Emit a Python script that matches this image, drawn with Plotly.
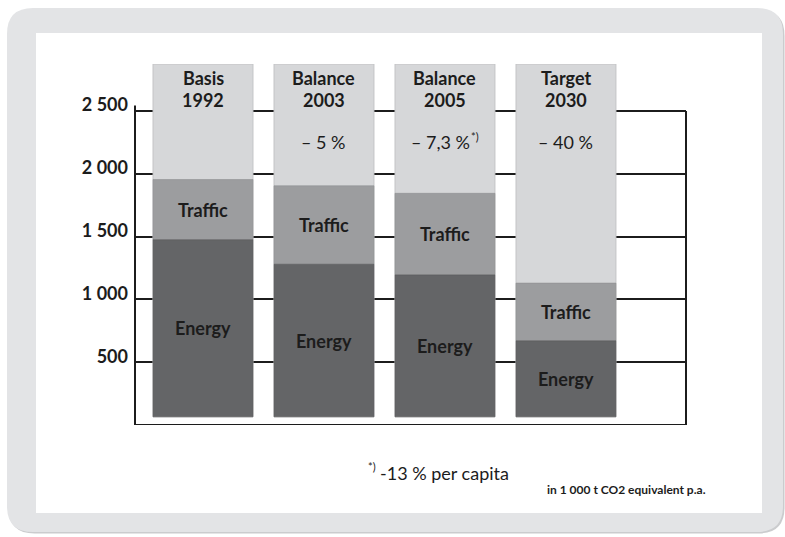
import plotly.graph_objects as go

# ---- data ----
columns = ["Basis 1992", "Balance 2003", "Balance 2005", "Target 2030"]
header_names = ["Basis", "Balance", "Balance", "Target"]
header_years = ["1992", "2003", "2005", "2030"]
header_changes = ["", "– 5 %", "– 7,3 %", "– 40 %"]
header_marks = ["", "", "*)", ""]
energy = [1475, 1280, 1195, 670]
traffic = [480, 625, 650, 460]
tick_values = [500, 1000, 1500, 2000, 2500]
tick_labels = ["500", "1 000", "1 500", "2 000", "2 500"]
footnote_mark = "*)"
footnote = "-13 % per capita"
unit_note = "in 1 000 t CO2 equivalent p.a."

# ---- style constants ----
BAR_BASE = 65
COLUMN_TOP = 2875
FONT = "Lato"
TXT = "#1c1c1c"
C_LIGHT = "#d6d7d9"
C_TRAFFIC = "#9c9d9f"
C_ENERGY = "#646567"
C_FRAME = "#e3e4e6"

W, H = 785, 537
L, R, T, B = 135, 99, 64, 112
PW, PH = W - L - R, H - T - B


def pp(px, py):
    return (px - L) / PW, (H - B - py) / PH


def rounded_path(x0, y0, x1, y1, r):
    pts = [
        ("M", [(x0 + r, y0)]),
        ("L", [(x1 - r, y0)]),
        ("Q", [(x1, y0), (x1, y0 + r)]),
        ("L", [(x1, y1 - r)]),
        ("Q", [(x1, y1), (x1 - r, y1)]),
        ("L", [(x0 + r, y1)]),
        ("Q", [(x0, y1), (x0, y1 - r)]),
        ("L", [(x0, y0 + r)]),
        ("Q", [(x0, y0), (x0 + r, y0)]),
    ]
    s = ""
    for cmd, ps in pts:
        s += cmd + " " + " ".join("%.5f,%.5f" % pp(a, b) for a, b in ps) + " "
    return s + "Z"


fig = go.Figure()

fig.add_trace(go.Bar(
    x=columns, y=[COLUMN_TOP - BAR_BASE] * len(columns), base=BAR_BASE,
    marker=dict(color=C_LIGHT, line=dict(color="#c3c4c6", width=1)),
    width=0.826, hoverinfo="skip", showlegend=False,
))
fig.add_trace(go.Bar(
    x=columns, y=traffic, base=energy,
    marker=dict(color=C_TRAFFIC, line=dict(color="#8f9092", width=0.6)),
    width=0.826, text=["Traffic"] * len(columns), textposition="inside",
    insidetextanchor="middle", textangle=0,
    textfont=dict(family=FONT, size=18, color=TXT, weight="bold"),
    showlegend=False,
))
fig.add_trace(go.Bar(
    x=columns, y=[e - BAR_BASE for e in energy], base=BAR_BASE,
    marker=dict(color=C_ENERGY, line=dict(color="#5a5b5d", width=0.6)),
    width=0.826, text=["Energy"] * len(columns), textposition="inside",
    insidetextanchor="middle", textangle=0,
    textfont=dict(family=FONT, size=18, color=TXT, weight="bold"),
    showlegend=False,
))

head_font = dict(family=FONT, size=18, color=TXT, weight="bold")
for c, n, yr, ch, mk in zip(columns, header_names, header_years, header_changes, header_marks):
    fig.add_annotation(x=c, y=2763, xref="x", yref="y", text=n, showarrow=False,
                       font=head_font, xanchor="center", yanchor="middle")
    fig.add_annotation(x=c, y=2590, xref="x", yref="y", text=yr, showarrow=False,
                       font=head_font, xanchor="center", yanchor="middle")
    if ch:
        fig.add_annotation(x=c, y=2253, xref="x", yref="y", text=ch, showarrow=False,
                           font=dict(family=FONT, size=18, color=TXT),
                           xanchor="center", yanchor="middle",
                           xshift=-4 if mk else 0)
    if mk:
        fig.add_annotation(x=c, y=2253, xref="x", yref="y", text=mk, showarrow=False,
                           font=dict(family=FONT, size=11, color=TXT),
                           xanchor="left", yanchor="middle", xshift=24, yshift=6)

mx, my = pp(366, 466)
fig.add_annotation(x=mx, y=my, xref="paper", yref="paper", text=footnote_mark,
                   showarrow=False, xanchor="left", yanchor="middle",
                   font=dict(family=FONT, size=11, color=TXT))
fx, fy = pp(378, 473)
fig.add_annotation(x=fx, y=fy, xref="paper", yref="paper", text=footnote,
                   showarrow=False, xanchor="left", yanchor="middle",
                   font=dict(family=FONT, size=18, color=TXT))
ux, uy = pp(708, 489)
fig.add_annotation(x=ux, y=uy, xref="paper", yref="paper", text=unit_note,
                   showarrow=False, xanchor="right", yanchor="middle",
                   font=dict(family=FONT, size=12, color=TXT, weight="bold"))

shapes = [
    dict(type="path", xref="paper", yref="paper", path=rounded_path(8.5, 9.5, 784.5, 533.5, 26),
         fillcolor="#cbccce", line=dict(width=0), layer="below"),
    dict(type="path", xref="paper", yref="paper", path=rounded_path(7, 8, 783, 532, 26),
         fillcolor=C_FRAME, line=dict(width=0), layer="below"),
    dict(type="rect", xref="paper", yref="paper",
         x0=pp(36, 33)[0], y0=pp(36, 33)[1], x1=pp(762, 513)[0], y1=pp(762, 513)[1],
         fillcolor="white", line=dict(width=0), layer="below"),
    dict(type="line", xref="paper", yref="y", x0=0, x1=0, y0=0, y1=2545,
         line=dict(color=TXT, width=2), layer="above"),
    dict(type="line", xref="paper", yref="y", x0=1, x1=1, y0=0, y1=2500,
         line=dict(color=TXT, width=2), layer="above"),
    dict(type="line", xref="paper", yref="y", x0=0, x1=1, y0=0, y1=0,
         line=dict(color=TXT, width=2), layer="above"),
]

fig.update_layout(
    width=W, height=H, autosize=False,
    margin=dict(l=L, r=R, t=T, b=B),
    paper_bgcolor="white", plot_bgcolor="rgba(0,0,0,0)",
    barmode="overlay", bargap=0,
    shapes=shapes,
    font=dict(family=FONT, color=TXT),
    xaxis=dict(range=[-0.562, 3.992], visible=False, fixedrange=True),
    yaxis=dict(range=[0, COLUMN_TOP], tickvals=tick_values, ticktext=tick_labels,
               showgrid=True, gridcolor=TXT, gridwidth=2, zeroline=False,
               showline=False, ticks="", ticklabelstandoff=6, ticklabelshift=-6,
               tickfont=dict(family=FONT, size=18, color=TXT, weight="bold"),
               fixedrange=True),
)

fig.write_html(
    "out.html",
    config={"displayModeBar": False, "staticPlot": True},
    post_script="document.body.style.margin='0px';document.body.style.overflow='hidden';",
)
